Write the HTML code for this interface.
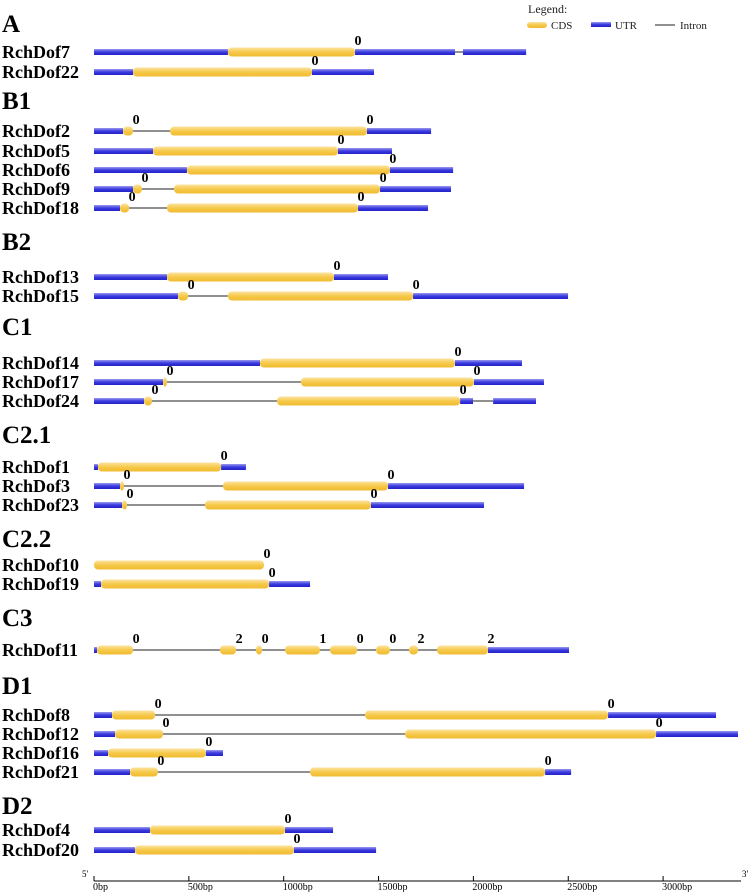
<!DOCTYPE html>
<html><head><meta charset="utf-8"><style>
html,body{margin:0;padding:0;background:#fff;}
svg{display:block;font-family:"Liberation Serif",serif;}
</style></head><body>
<svg id="chart" width="751" height="892" viewBox="0 0 751 892" xmlns="http://www.w3.org/2000/svg">
<defs>
<linearGradient id="gCds" x1="0" y1="0" x2="0" y2="1"><stop offset="0" stop-color="#fbe3a0"/><stop offset="0.5" stop-color="#f6c94a"/><stop offset="1" stop-color="#f0bb30"/></linearGradient>
<linearGradient id="gUtr" x1="0" y1="0" x2="0" y2="1"><stop offset="0" stop-color="#9a9af0"/><stop offset="0.5" stop-color="#3b3be0"/><stop offset="1" stop-color="#2222c8"/></linearGradient>
</defs>
<g id="legend">
<text x="528" y="13" font-size="12" fill="#222">Legend:</text>
<rect x="527" y="22" width="20" height="6" rx="3" fill="url(#gCds)"/>
<text x="551" y="29" font-size="11" fill="#222">CDS</text>
<rect x="591" y="22" width="20" height="5" fill="url(#gUtr)"/>
<text x="615" y="29" font-size="11" fill="#222">UTR</text>
<line x1="655" y1="25" x2="675" y2="25" stroke="#222" stroke-width="1"/>
<text x="680" y="29" font-size="11" fill="#222">Intron</text>
</g>
<g id="marks"></g>
<g id="axis"></g>
</svg>
<script>
const groups = [["A",20],["B1",97],["B2",238],["C1",323],["C2.1",431],["C2.2",535],["C3",614],["D1",682],["D2",802]];
const geneNames = ["RchDof7","RchDof22","RchDof2","RchDof5","RchDof6","RchDof9","RchDof18","RchDof13","RchDof15","RchDof14","RchDof17","RchDof24","RchDof1","RchDof3","RchDof23","RchDof10","RchDof19","RchDof11","RchDof8","RchDof12","RchDof16","RchDof21","RchDof4","RchDof20"];
const geneRowY = [52,72,131,151,170,189,208,277,296,363,382,401,467,486,505,565,584,650,715,734,753,772,830,850];
const geneTypes = ["UCUIU","UCU","UCICU","UCU","UCU","UCICU","UCICU","UCU","UCICU","UCU","UCICU","UCICUIU","UCU","UCICU","UCICU","C","UCU","UCICICICICICICICU","UCICU","UCICU","UCU","UCICU","UCU","UCU"];
const geneBounds = [
[0,706,1376,1903,1945,2278],
[0,206,1149,1476],
[0,153,206,401,1439,1777],
[0,311,1286,1571],
[0,490,1560,1893],
[0,206,253,422,1508,1882],
[0,137,185,385,1392,1761],
[0,385,1265,1550],
[0,443,496,706,1682,2499],
[0,875,1903,2256],
[0,364,385,1091,2003,2372],
[0,264,306,965,1930,1998,2104,2330],
[0,21,670,801],
[0,137,158,680,1550,2267],
[0,148,174,585,1460,2056],
[0,896],
[0,37,923,1139],
[0,16,206,664,749,854,886,1007,1191,1244,1387,1487,1560,1661,1708,1808,2077,2504],
[0,95,322,1429,2710,3279],
[0,111,364,1640,2963,3395],
[0,74,590,680],
[0,190,337,1139,2378,2515],
[0,295,1007,1260],
[0,216,1054,1487]
];
const genePhases = [[0],[0],[0,0],[0],[0],[0,0],[0,0],[0],[0,0],[0],[0,0],[0,0],[0],[0,0],[0,0],[0],[0],[0,2,0,1,0,0,2,2],[0,0],[0,0],[0],[0,0],[0],[0]];
const axisTicks = [0,500,1000,1500,2000,2500,3000];
const axisTickLabels = ["0bp","500bp","1000bp","1500bp","2000bp","2500bp","3000bp"];

const X0 = 94, PX = 0.1897;
const xs = bp => X0 + bp*PX;
const NS = "http://www.w3.org/2000/svg";
const marks = document.getElementById('marks');
function mk(tag, attrs, parent){const e=document.createElementNS(NS,tag);for(const k in attrs)e.setAttribute(k,attrs[k]);(parent||marks).appendChild(e);return e;}

groups.forEach(g=>{
  const t=mk('text',{x:2,y:g[1]+12,'font-size':25,'font-weight':'bold',fill:'#000'});
  
  
  t.textContent=g[0];
});

geneNames.forEach((name,i)=>{
  const y=geneRowY[i];
  const g=mk('g',{});
  
  
  const lab=mk('text',{x:2,y:y+6,'font-size':18,'font-weight':'bold',fill:'#000'},g);
  
  
  lab.textContent=name;
  const b=geneBounds[i], types=geneTypes[i];
  let pi=0;
  for(let s=0;s<types.length;s++){
    const x1=xs(b[s]), x2=xs(b[s+1]), ty=types[s];
    let e;
    if(ty==='U'){e=mk('rect',{x:x1,y:y-3,width:Math.max(0.5,x2-x1),height:6,fill:'url(#gUtr)'},g);}
    else if(ty==='I'){e=mk('line',{x1:x1,y1:y,x2:x2,y2:y,stroke:'#222','stroke-width':1},g);}
    else{
      e=mk('rect',{x:x1,y:y-4.5,width:Math.max(1,x2-x1),height:9,rx:4,ry:4,fill:'url(#gCds)'},g);
      const ph=mk('text',{x:x2+3,y:y-7,'font-size':14,'font-weight':'bold','text-anchor':'middle',fill:'#000'},g);
      
      
      ph.textContent=genePhases[i][pi++];
    }
    
  }
});

const ax=document.getElementById('axis');
mk('line',{x1:xs(0),y1:881,x2:741,y2:881,stroke:'#000','stroke-width':1},ax);
const t5=mk('text',{x:82,y:877,'font-size':9,fill:'#000'},ax);t5.textContent="5'";

const t3=mk('text',{x:742,y:877,'font-size':9,fill:'#000'},ax);t3.textContent="3'";

axisTicks.forEach((v,k)=>{
  const tk=mk('line',{x1:xs(v),y1:876,x2:xs(v),y2:881,stroke:'#000','stroke-width':1},ax);
  
  const tl=mk('text',{x:xs(v)-1,y:890,'font-size':10,fill:'#000'},ax);
  
  tl.textContent=axisTickLabels[k];
});
</script>
</body></html>
